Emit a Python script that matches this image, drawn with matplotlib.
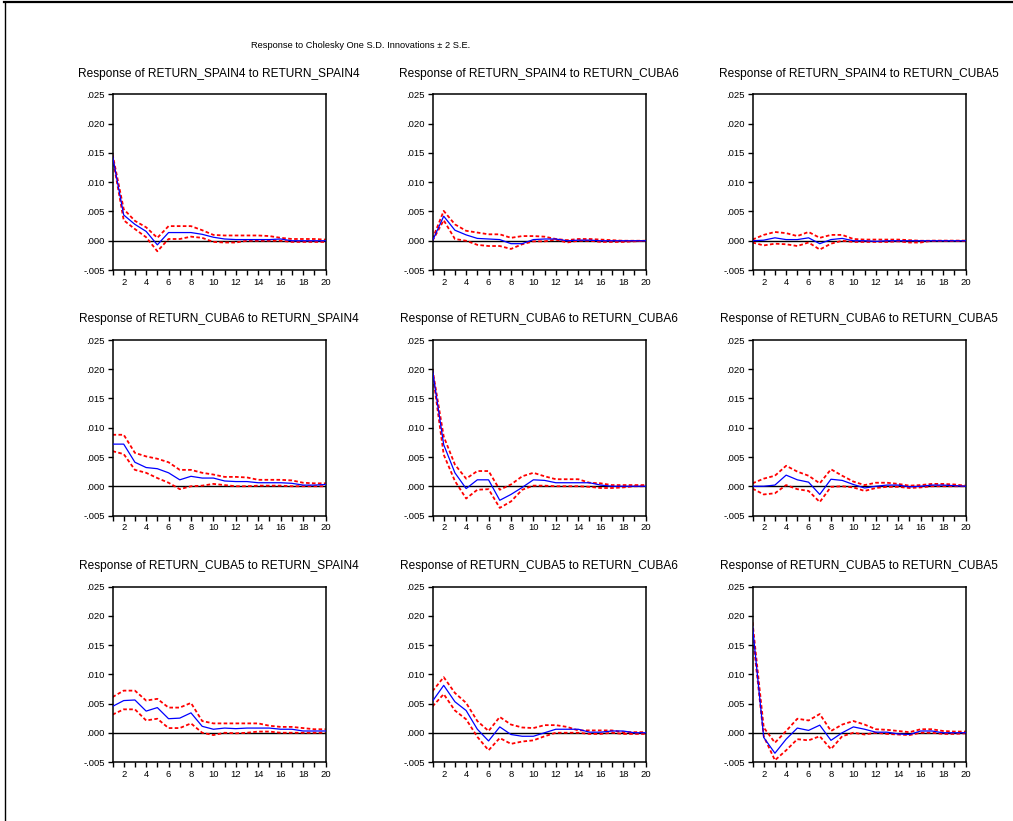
import numpy as np
import matplotlib
matplotlib.use("Agg")
import matplotlib.pyplot as plt
from matplotlib.lines import Line2D

plt.rcParams["font.family"] = ["Liberation Sans", "DejaVu Sans"]

# ── Impulse responses (periods 1..20) ─────────────────────────────────────────
periods = np.arange(1, 21)

titles = [
    "Response of RETURN_SPAIN4 to RETURN_SPAIN4",
    "Response of RETURN_SPAIN4 to RETURN_CUBA6",
    "Response of RETURN_SPAIN4 to RETURN_CUBA5",
    "Response of RETURN_CUBA6 to RETURN_SPAIN4",
    "Response of RETURN_CUBA6 to RETURN_CUBA6",
    "Response of RETURN_CUBA6 to RETURN_CUBA5",
    "Response of RETURN_CUBA5 to RETURN_SPAIN4",
    "Response of RETURN_CUBA5 to RETURN_CUBA6",
    "Response of RETURN_CUBA5 to RETURN_CUBA5",
]

resp = [
    [0.0145, 0.0044, 0.0028, 0.0016, -0.0007, 0.0014, 0.0014, 0.0014, 0.0011, 0.0006,
     0.0003, 0.0002, 0.0002, 0.0002, 0.0002, 0.0003, 0.0000, 0.0000, 0.0000, 0.0000],
    [0.0000, 0.0042, 0.0018, 0.0010, 0.0004, 0.0003, 0.0002, -0.0005, -0.0005, 0.0002,
     0.0003, 0.0003, 0.0000, 0.0001, 0.0001, 0.0000, 0.0000, 0.0000, 0.0000, 0.0000],
    [0.0000, 0.0001, 0.0005, 0.0002, 0.0002, 0.0005, -0.0005, 0.0002, 0.0004, 0.0000,
     0.0000, -0.0001, 0.0000, 0.0000, 0.0000, 0.0000, 0.0000, 0.0000, 0.0000, 0.0000],
    [0.0072, 0.0072, 0.0041, 0.0032, 0.0030, 0.0023, 0.0011, 0.0017, 0.0014, 0.0014,
     0.0009, 0.0008, 0.0008, 0.0006, 0.0006, 0.0006, 0.0005, 0.0002, 0.0002, 0.0003],
    [0.0198, 0.0071, 0.0023, -0.0004, 0.0011, 0.0011, -0.0024, -0.0014, -0.0002, 0.0011,
     0.0010, 0.0006, 0.0006, 0.0006, 0.0006, 0.0002, 0.0000, 0.0000, 0.0000, 0.0000],
    [0.0000, 0.0000, 0.0002, 0.0019, 0.0011, 0.0007, -0.0014, 0.0012, 0.0010, 0.0003,
     -0.0003, 0.0000, 0.0002, 0.0002, -0.0001, 0.0000, 0.0002, 0.0002, 0.0001, 0.0000],
    [0.0045, 0.0055, 0.0056, 0.0037, 0.0043, 0.0024, 0.0025, 0.0034, 0.0011, 0.0006,
     0.0008, 0.0007, 0.0008, 0.0008, 0.0008, 0.0006, 0.0006, 0.0003, 0.0003, 0.0003],
    [0.0054, 0.0081, 0.0053, 0.0038, 0.0006, -0.0014, 0.0010, -0.0003, -0.0006, -0.0006,
     0.0000, 0.0006, 0.0006, 0.0006, 0.0001, 0.0001, 0.0003, 0.0003, 0.0000, 0.0000],
    [0.0182, -0.0008, -0.0035, -0.0011, 0.0008, 0.0004, 0.0013, -0.0013, 0.0000, 0.0010,
     0.0006, 0.0001, 0.0001, -0.0002, -0.0003, 0.0003, 0.0003, 0.0000, 0.0000, 0.0000],
]

upper = [
    [0.0148, 0.0054, 0.0034, 0.0023, 0.0005, 0.0025, 0.0025, 0.0025, 0.0018, 0.0010,
     0.0009, 0.0009, 0.0009, 0.0009, 0.0008, 0.0005, 0.0003, 0.0003, 0.0003, 0.0002],
    [0.0003, 0.0051, 0.0028, 0.0017, 0.0014, 0.0011, 0.0011, 0.0005, 0.0008, 0.0008,
     0.0007, 0.0003, 0.0001, 0.0003, 0.0003, 0.0002, 0.0001, 0.0000, 0.0000, 0.0000],
    [0.0002, 0.0010, 0.0015, 0.0013, 0.0008, 0.0015, 0.0005, 0.0010, 0.0010, 0.0003,
     0.0002, 0.0002, 0.0002, 0.0002, 0.0001, 0.0000, 0.0000, 0.0000, 0.0000, 0.0000],
    [0.0088, 0.0088, 0.0057, 0.0051, 0.0047, 0.0041, 0.0028, 0.0028, 0.0023, 0.0020,
     0.0016, 0.0016, 0.0015, 0.0011, 0.0011, 0.0011, 0.0010, 0.0006, 0.0005, 0.0005],
    [0.0200, 0.0085, 0.0037, 0.0013, 0.0026, 0.0026, -0.0006, 0.0003, 0.0017, 0.0023,
     0.0017, 0.0012, 0.0012, 0.0012, 0.0006, 0.0005, 0.0002, 0.0002, 0.0002, 0.0002],
    [0.0005, 0.0013, 0.0018, 0.0035, 0.0025, 0.0018, 0.0005, 0.0029, 0.0018, 0.0008,
     0.0002, 0.0006, 0.0006, 0.0004, 0.0001, 0.0002, 0.0004, 0.0004, 0.0003, 0.0001],
    [0.0061, 0.0072, 0.0072, 0.0055, 0.0058, 0.0043, 0.0043, 0.0051, 0.0020, 0.0016,
     0.0016, 0.0016, 0.0016, 0.0016, 0.0012, 0.0010, 0.0010, 0.0008, 0.0006, 0.0006],
    [0.0071, 0.0095, 0.0068, 0.0051, 0.0020, 0.0003, 0.0027, 0.0014, 0.0009, 0.0008,
     0.0013, 0.0013, 0.0010, 0.0004, 0.0004, 0.0004, 0.0004, 0.0001, 0.0001, 0.0001],
    [0.0189, 0.0009, -0.0017, 0.0003, 0.0024, 0.0021, 0.0032, 0.0003, 0.0014, 0.0020,
     0.0014, 0.0006, 0.0005, 0.0003, 0.0001, 0.0006, 0.0006, 0.0003, 0.0002, 0.0002],
]

lower = [
    [0.0143, 0.0035, 0.0020, 0.0006, -0.0018, 0.0003, 0.0003, 0.0007, 0.0005, -0.0002,
     -0.0003, -0.0003, 0.0000, 0.0000, 0.0000, 0.0000, -0.0002, -0.0002, -0.0002, -0.0002],
    [0.0000, 0.0035, 0.0003, 0.0000, -0.0007, -0.0009, -0.0009, -0.0014, -0.0006, -0.0001,
     -0.0001, 0.0002, -0.0003, 0.0000, 0.0000, -0.0002, -0.0002, -0.0002, -0.0001, 0.0000],
    [-0.0003, -0.0008, -0.0005, -0.0006, -0.0009, -0.0003, -0.0015, -0.0005, 0.0000, -0.0002,
     -0.0002, -0.0002, -0.0002, -0.0001, -0.0003, -0.0003, 0.0000, 0.0000, 0.0000, 0.0000],
    [0.0060, 0.0055, 0.0028, 0.0023, 0.0014, 0.0006, -0.0005, 0.0000, 0.0001, 0.0004,
     0.0002, 0.0000, 0.0000, 0.0001, 0.0001, 0.0001, 0.0000, 0.0000, 0.0000, 0.0000],
    [0.0195, 0.0054, 0.0009, -0.0021, -0.0006, -0.0005, -0.0037, -0.0026, -0.0006, 0.0001,
     0.0001, 0.0000, 0.0000, 0.0000, -0.0001, -0.0003, -0.0003, -0.0002, 0.0000, 0.0000],
    [-0.0004, -0.0014, -0.0012, 0.0002, -0.0005, -0.0008, -0.0027, -0.0001, 0.0000, -0.0002,
     -0.0008, -0.0003, -0.0001, -0.0001, -0.0003, -0.0002, 0.0000, 0.0000, 0.0000, 0.0000],
    [0.0031, 0.0040, 0.0040, 0.0021, 0.0024, 0.0008, 0.0008, 0.0016, 0.0000, -0.0004,
     0.0000, -0.0001, 0.0000, 0.0002, 0.0002, 0.0000, 0.0000, 0.0000, 0.0000, 0.0000],
    [0.0045, 0.0066, 0.0038, 0.0023, -0.0007, -0.0030, -0.0009, -0.0019, -0.0015, -0.0013,
     -0.0006, 0.0000, 0.0000, 0.0000, -0.0002, -0.0002, 0.0000, -0.0002, -0.0002, -0.0002],
    [0.0170, -0.0006, -0.0047, -0.0030, -0.0011, -0.0013, -0.0006, -0.0028, -0.0006, 0.0000,
     -0.0003, 0.0000, -0.0002, -0.0003, -0.0004, 0.0000, 0.0000, -0.0002, -0.0002, -0.0001],
]

yticks = [-0.005, 0.000, 0.005, 0.010, 0.015, 0.020, 0.025]
ytick_labels = ["-.005", ".000", ".005", ".010", ".015", ".020", ".025"]

# ── Figure: pixel layout of the EViews window ─────────────────────────────────
W, H = 1013, 821
fig = plt.figure(figsize=(W / 100, H / 100), dpi=100)

col_left = [112.5, 432.5, 752.5]
row_top = [94.5, 340.0, 586.5]
ax_w, ax_h = 213.0, 175.5

fig.text(361 / W, 1 - 45 / H, "Response to Cholesky One S.D. Innovations \u00b1 2 S.E.",
         ha="center", va="center", fontsize=6.7)

for k in range(9):
    r, c = divmod(k, 3)
    x0, y0 = col_left[c], row_top[r]
    ax = fig.add_axes([x0 / W, 1 - (y0 + ax_h) / H, ax_w / W, ax_h / H])

    ax.axhline(0, color="black", linewidth=1.0, zorder=1)
    ax.plot(periods, upper[k], color="#ff0000", linewidth=1.3,
            linestyle=(0, (2.0, 1.3)), zorder=2)
    ax.plot(periods, lower[k], color="#ff0000", linewidth=1.3,
            linestyle=(0, (2.0, 1.3)), zorder=2)
    ax.plot(periods, resp[k], color="#0000ff", linewidth=0.9, zorder=3)

    ax.set_xlim(1, 20)
    ax.set_ylim(-0.005, 0.025)
    ax.set_yticks(yticks)
    ax.set_yticklabels(ytick_labels)
    ax.set_xticks(periods)
    ax.set_xticklabels([str(p) if p % 2 == 0 else "" for p in periods])
    ax.tick_params(direction="out", length=3.5, width=1.0, labelsize=6.8, pad=2)
    for sp in ax.spines.values():
        sp.set_linewidth(1.1)

    fig.text((x0 + ax_w / 2) / W, 1 - (y0 - 21) / H, titles[k],
             ha="center", va="center", fontsize=8.6)

# window frame (top and left edge of the screenshot)
fig.add_artist(Line2D([0.004, 1.0], [0.998, 0.998], color="black", linewidth=1.6))
fig.add_artist(Line2D([0.005, 0.005], [0.0, 0.998], color="black", linewidth=1.0))

fig.savefig("out.png", dpi=100)
